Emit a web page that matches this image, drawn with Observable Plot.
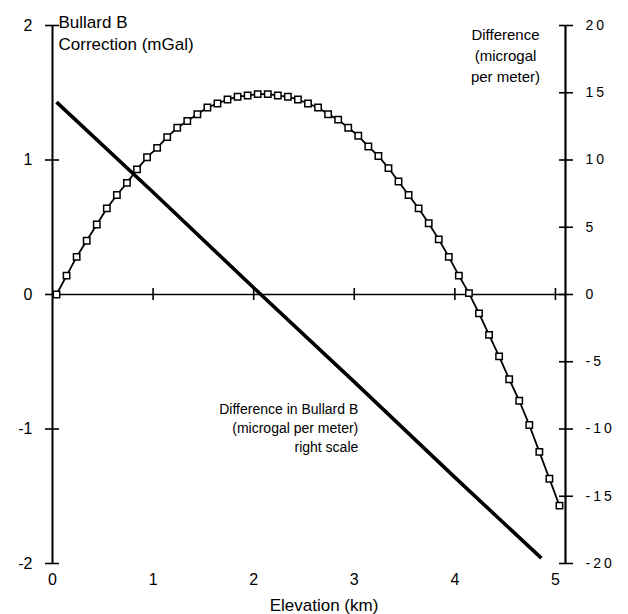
<!DOCTYPE html>
<html><head><meta charset="utf-8">
<script src="https://cdn.jsdelivr.net/npm/d3@7"></script>
<script src="https://cdn.jsdelivr.net/npm/@observablehq/plot@0.6"></script>
<style>
body{margin:0;background:#fff;}
#chart svg{display:block;}
</style></head><body><div id="chart"></div>
<script>
// Bullard B correction curve (left scale, mGal), squares every ~0.1 km
const elevations = [0.04,0.14,0.24,0.34,0.44,0.54,0.64,0.74,0.84,0.94,
  1.04,1.14,1.24,1.34,1.44,1.54,1.64,1.74,1.84,1.94,
  2.04,2.14,2.24,2.34,2.44,2.54,2.64,2.74,2.84,2.94,
  3.04,3.14,3.24,3.34,3.44,3.54,3.64,3.74,3.84,3.94,
  4.04,4.14,4.24,4.34,4.44,4.54,4.64,4.74,4.84,4.94,5.04];
const bullardB = [0.00,0.14,0.28,0.40,0.52,0.64,0.74,0.83,0.93,1.02,
  1.09,1.17,1.24,1.29,1.34,1.39,1.42,1.45,1.47,1.48,
  1.49,1.49,1.48,1.47,1.45,1.42,1.39,1.34,1.30,1.24,
  1.18,1.10,1.03,0.94,0.84,0.74,0.64,0.53,0.41,0.28,
  0.14,0.01,-0.14,-0.30,-0.46,-0.63,-0.79,-0.97,-1.17,-1.37,-1.57];
// Difference in Bullard B (right scale, microgal per meter)
const diffElevations = [0.04, 1, 2, 3, 4, 4.86];
const diffValues = [14.3, 7.6, 0.5, -6.5, -13.6, -19.6];
// ticks
const leftTicks = [-2, -1, 0, 1, 2];
const rightTicks = [-20, -15, -10, -5, 0, 5, 10, 15, 20];
const xTicks = [0, 1, 2, 3, 4, 5];
const xMax = 5.1;

const curve = elevations.map((x, i) => ({x, y: bullardB[i]}));
const diff = diffElevations.map((x, i) => ({x, v: diffValues[i]}));
const font = '"Liberation Sans", Arial, Helvetica, sans-serif';

const plot = Plot.plot({
  width: 628, height: 614,
  marginLeft: 52, marginRight: 63, marginTop: 25, marginBottom: 51,
  x: {domain: [0, xMax]},
  y: {domain: [-2, 2]},
  style: {fontFamily: font, fontSize: "16px", color: "black", background: "white"},
  marks: [
    Plot.ruleY([0], {strokeWidth: 1.6}),
    Plot.ruleX([0], {strokeWidth: 2}),
    Plot.ruleX([xMax], {strokeWidth: 2.2}),
    Plot.ruleX(xTicks.slice(1), {y1: -0.045, y2: 0.045, strokeWidth: 1.6}),
    Plot.axisY(leftTicks, {anchor: "left", tickSize: 14, dx: 7, tickPadding: 13, fontSize: 16, strokeWidth: 1.6, label: null, tickFormat: d => String(d)}),
    Plot.axisY(rightTicks.map(v => v / 10), {anchor: "right", tickSize: 14, dx: -7, tickPadding: 13, fontSize: 14, strokeWidth: 1.6, label: null, tickFormat: d => String(Math.round(d * 10))}),
    Plot.axisX(xTicks, {anchor: "bottom", tickSize: 0, tickPadding: 10, fontSize: 16, label: null, tickFormat: d => String(d)}),
    Plot.line(diff, {x: "x", y: d => d.v / 10, strokeWidth: 3.6, strokeLinecap: "butt"}),
    Plot.line(curve, {x: "x", y: "y", strokeWidth: 1.8}),
    Plot.dot(curve, {x: "x", y: "y", symbol: "square", r: 3.6, fill: "white", stroke: "black", strokeWidth: 1.5}),
    Plot.text(["Bullard B\nCorrection (mGal)"], {text: d => d, frameAnchor: "top-left", textAnchor: "start", lineAnchor: "top", dx: 6, dy: -12, fontSize: 17, lineHeight: 1.24}),
    Plot.text(["Difference\n(microgal\nper meter)"], {text: d => d, frameAnchor: "top-right", textAnchor: "middle", lineAnchor: "top", dx: -60, dy: 0, fontSize: 15, lineHeight: 1.4}),
    Plot.text([{x: 3.04, y: -0.79, t: "Difference in Bullard B\n(microgal per meter)\nright scale"}], {x: "x", y: "y", text: "t", textAnchor: "end", lineAnchor: "top", fontSize: 14, lineHeight: 1.36}),
    Plot.text(["Elevation (km)"], {text: d => d, frameAnchor: "bottom", lineAnchor: "bottom", dx: 15, dy: 47, fontSize: 17})
  ]
});
document.getElementById("chart").appendChild(plot);
// spaced digits on the right-hand scale
d3.select(plot).selectAll('g[aria-label="y-axis tick label"]').each(function() {
  const g = d3.select(this);
  if (g.attr("text-anchor") === "start") g.style("letter-spacing", "3px");
});
</script></body></html>
